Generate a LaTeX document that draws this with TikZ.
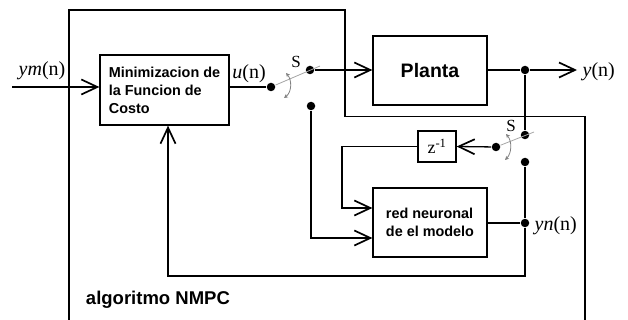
\documentclass[tikz,border=0pt]{standalone}
\usepackage{fontspec}
\setmainfont{Liberation Serif}
\setsansfont{Liberation Sans}
\usetikzlibrary{arrows.meta}
\tikzset{
    >={Straight Barb[length=16pt,width=15pt,line width=1.7pt]},
    block/.style={
        rectangle,
        draw,
        align=left,
        font=\sffamily\bfseries\fontsize{14.4}{18}\selectfont
    },
    dot/.style={
        circle,
        fill,
        inner sep=0pt,
        minimum size=8.5pt
    },
    blade/.style={
        draw=black!35,
        line width=0.8pt
    },
    turn/.style={
        draw=black!50,
        line width=0.8pt,
        {Stealth[length=4pt,width=4pt]}-{Stealth[length=4pt,width=4pt]}
    },
    signal/.style={
        font=\fontsize{20}{20}\selectfont,
        inner sep=0pt
    }
}

\begin{document}
\begin{tikzpicture}[
    x=1pt, y=-1pt,
    line width=1.3pt
]
\useasboundingbox (0,0) rectangle (628,320);

% NMPC frame
\draw (69,320) -- (69,10) -- (345,10) -- (345,116.5) -- (585,116.5) -- (585,320);
\node[anchor=west, font=\sffamily\bfseries\fontsize{18.5}{20}\selectfont] (nmpc) at (82,300) {algoritmo NMPC};

% Blocks
\node[block, minimum width=129pt, minimum height=70pt] (cost) at (164.5,90)
{Minimizacion de\\la Funcion de\\Costo};

\node[block, minimum width=114pt, minimum height=69pt,
      font=\sffamily\bfseries\fontsize{19.5}{22}\selectfont] (planta) at (430,70.5)
{Planta};

\node[block, minimum width=38pt, minimum height=31pt, inner sep=0pt,
      font=\fontsize{18}{18}\selectfont] (zinv) at (437,146.5)
{z\textsuperscript{-1}};

\node[block, minimum width=114pt, minimum height=69pt] (red) at (430,222.5)
{red neuronal\\de el modelo};

% Switch contacts and junctions
\node[dot] (sw1a) at (271,87) {};
\node[dot] (sw1b) at (310,70) {};
\node[dot] (sw1c) at (311,106) {};
\node[dot] (dout) at (525,70) {};
\node[dot] (sw2a) at (525,135) {};
\node[dot] (sw2b) at (496,147) {};
\node[dot] (sw2c) at (525,162) {};
\node[dot] (ynj) at (525,223) {};

% Free ends and corners
\coordinate (ym) at (12,87);
\coordinate (yout) at (577,70);
\coordinate (zl) at (342,208);
\coordinate (sl) at (311,238);
\coordinate (fbr) at (525,276);
\coordinate (fbl) at (168,276);
\coordinate (sw1t) at (320,66);
\coordinate (sw2t) at (534,132);

% Signals
\draw[->] (ym) -- (ym -| cost.west);
\draw (cost.east |- sw1a) -- (sw1a);
\draw[->] (sw1b) -- (sw1b -| planta.west);
\draw[->] (planta.east |- dout) -- (dout) -- (yout);
\draw (dout) -- (sw2a);
\draw[->] (sw2b) -- (zinv.east);
\draw[->] (zinv.west) -| (zl) -- (zl -| red.west);
\draw[->] (sw1c) -- (sl) -- (sl -| red.west);
\draw (red.east |- ynj) -- (ynj);
\draw[->] (sw2c) -- (ynj) -- (fbr) -- (fbl) -- (fbl |- cost.south);

% Switches
\draw[blade] (sw1a) -- (sw1t);
\draw[blade] (sw2b) -- (sw2t);
\draw[turn] (286,73) .. controls (292,80) and (292,92) .. (284,98);
\draw[turn] (506,134) .. controls (512,141) and (512,153) .. (505,160);
\node[font=\fontsize{17}{17}\selectfont] (s1) at (296,62) {S};
\node[font=\fontsize{17}{17}\selectfont] (s2) at (511,126) {S};

% Signal labels
\node[signal] (ymlab) at (42,71) {\textit{ym}(n)};
\node[signal] (ulab) at (249,74) {\textit{u}(n)};
\node[signal, anchor=west] (ylab) at (582,72) {\textit{y}(n)};
\node[signal, anchor=west] (ynlab) at (534,226) {\textit{yn}(n)};

\end{tikzpicture}
\end{document}
